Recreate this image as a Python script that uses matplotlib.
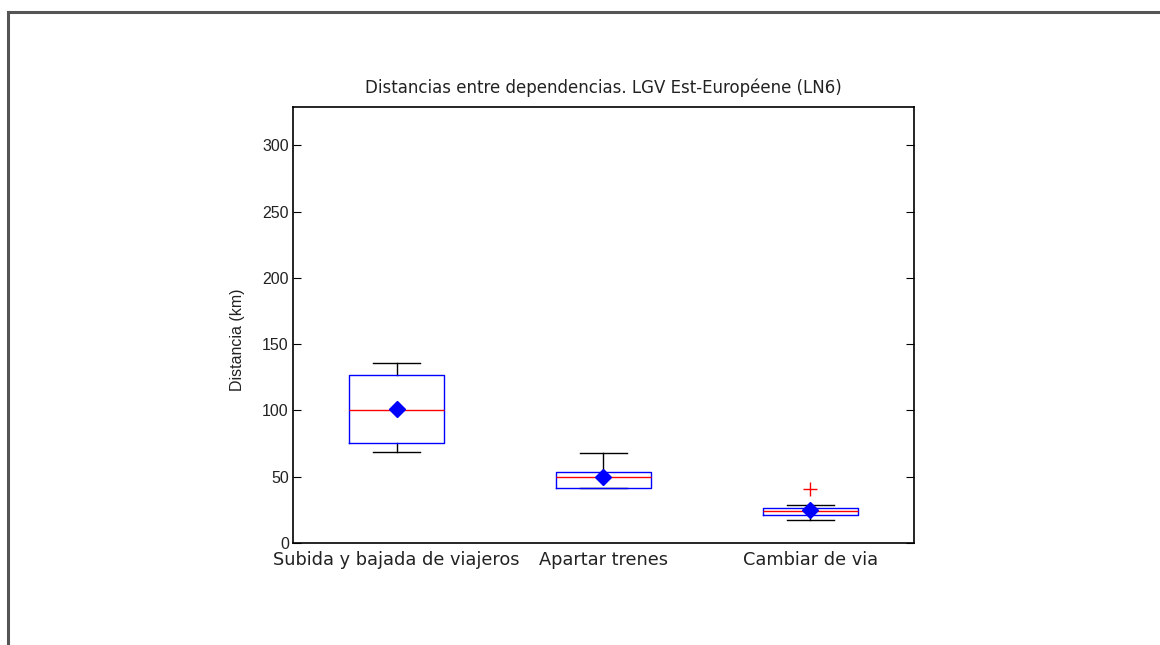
import matplotlib.pyplot as plt
from matplotlib.lines import Line2D

categorias = ["Subida y bajada de viajeros", "Apartar trenes", "Cambiar de via"]
q1 = [75.5, 41.5, 21.3]
mediana = [100, 49.5, 24.5]
q3 = [126.5, 53.5, 26.6]
bigote_inf = [68.5, 41.5, 17.3]
bigote_sup = [135.7, 68.3, 28.5]
media = [101, 50, 24.6]
atipicos = [[], [], [41]]

stats = []
for i in range(len(categorias)):
    stats.append(dict(label=categorias[i], q1=q1[i], med=mediana[i], q3=q3[i],
                      whislo=bigote_inf[i], whishi=bigote_sup[i],
                      mean=media[i], fliers=atipicos[i]))

plt.rcParams['font.family'] = ['Liberation Sans', 'DejaVu Sans']
fig = plt.figure(figsize=(11.6, 6.45), dpi=100)
ax = fig.add_axes([0.2526, 0.1581, 0.5353, 0.6760])

ax.bxp(stats, positions=[1, 2, 3], widths=0.46, capwidths=0.23,
       showmeans=True,
       boxprops=dict(color='blue', linewidth=1, zorder=3),
       medianprops=dict(color='red', linewidth=1, zorder=3),
       whiskerprops=dict(color='black', linewidth=1),
       capprops=dict(color='black', linewidth=1),
       flierprops=dict(marker='+', markeredgecolor='red', markersize=10, linestyle='none'),
       meanprops=dict(marker='D', markerfacecolor='blue', markeredgecolor='blue', markersize=8, zorder=4))

ax.set_xlim(0.5, 3.5)
ax.set_ylim(0, 329)
ax.set_yticks([0, 50, 100, 150, 200, 250, 300])
ax.set_xticks([1, 2, 3])
ax.set_xticklabels(categorias, fontsize=12.8, color='#222222', family='DejaVu Sans')
ax.tick_params(axis='y', direction='in', right=True, length=6, labelsize=11.5, pad=3, labelcolor='#222222')
ax.tick_params(axis='x', length=0, pad=6)
ax.set_ylabel("Distancia (km)", fontsize=11.5, color='#222222')
ax.yaxis.set_label_coords(-0.077, 0.466)
ax.set_title("Distancias entre dependencias. LGV Est-Européene (LN6)", fontsize=12,
             pad=10, family='DejaVu Sans', color='#222222')
for s in ax.spines.values():
    s.set_linewidth(1.2)

# marco gris de la figura
fig.add_artist(Line2D([8 / 1160, 1], [1 - 12 / 645, 1 - 12 / 645], color='#555555', linewidth=2.2))
fig.add_artist(Line2D([8 / 1160, 8 / 1160], [0, 1 - 12 / 645], color='#555555', linewidth=2.2))

fig.savefig("out.png", dpi=100)
